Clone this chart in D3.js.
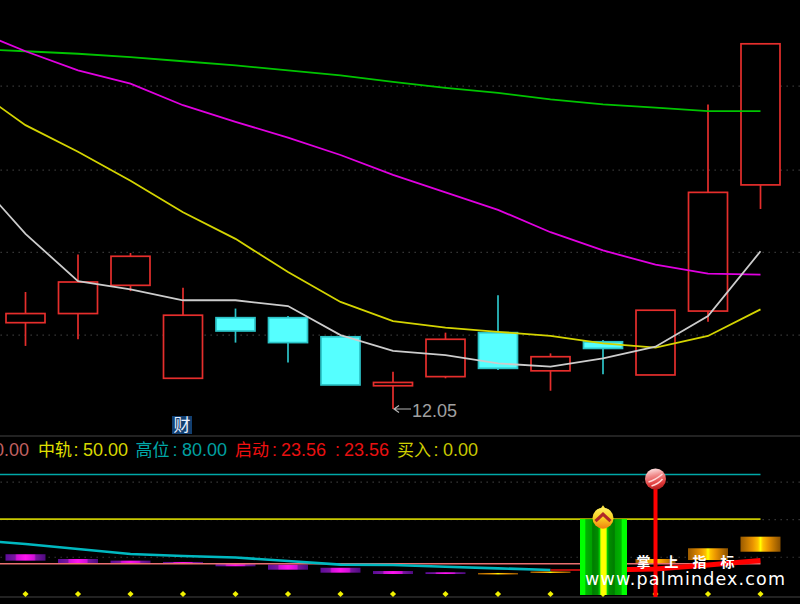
<!DOCTYPE html>
<html><head><meta charset="utf-8">
<script src="https://cdn.jsdelivr.net/npm/d3@7/dist/d3.min.js"></script>
<style>html,body{margin:0;padding:0;background:#000;overflow:hidden}svg{display:block}</style>
</head><body><div id="c"></div>
<script>
const candleIndex=[0,1,2,3,4,5,6,7,8,9,10,11,12,13,14];
const opens =[13.09,13.20,13.54,12.42,13.15,13.15,12.92,12.33,12.44,12.97,12.51,12.86,12.46,13.23,14.75];
const closes=[13.20,13.58,13.89,13.18,12.99,12.85,12.34,12.37,12.89,12.54,12.68,12.78,13.24,14.66,16.45];
const highs =[13.46,13.91,13.93,13.51,13.26,13.17,12.92,12.50,12.97,13.42,12.72,12.88,13.24,15.72,16.45];
const lows  =[12.81,12.89,13.47,12.42,12.85,12.61,12.34,12.05,12.42,12.52,12.27,12.47,12.46,13.10,14.46];
const lineIndex=[-1,0,1,2,3,4,5,6,7,8,9,10,11,12,13,14];
const maWhite  =[14.87,14.16,13.59,13.49,13.36,13.36,13.29,12.94,12.75,12.70,12.60,12.56,12.66,12.80,13.17,13.95];
const maYellow =[15.92,15.47,15.15,14.80,14.42,14.10,13.70,13.34,13.11,13.03,12.98,12.93,12.84,12.79,12.93,13.25];
const maMagenta=[16.62,16.36,16.13,15.97,15.71,15.51,15.32,15.11,14.87,14.66,14.45,14.18,13.96,13.79,13.68,13.67];
const maGreen  =[16.39,16.36,16.33,16.29,16.24,16.19,16.13,16.07,15.99,15.92,15.86,15.78,15.72,15.68,15.64,15.64];
const priceGrid=[15.945,14.933,13.942,12.945];
const lowLabel="12.05";
const lowPrice=12.05;

const indicatorGrid=[75.2,50,24.7];
const levelHigh=80, levelMid=50, levelLow=20;
const trendCyan=[36.0,33.3,29.9,26.6,25.2,24.2,21.8,19.4,19.2,18.0,16.9,15.8];
const trendRedIndex=[10,11,12,13,14];
const trendRed=[15.8,15.8,16.5,19.2,22.2];
const barTop=[26.4,23.2,22.1,21.2,19.8,19.4,17.3,15.1,14.3,13.8,14.8,null,23.2,30.4,38.2];
const barBottom=[22.1,20.0,19.8,19.8,18.3,16.0,14.0,13.1,13.1,12.8,13.8,null,19.8,22.5,28.1];
const barTone=["m","m","m","m","m","m","m","m","m","o","o",null,"o","o","o"];
const signalIndex=11, ballIndex=12;
const ballValue=77;
const headerText=[
 {t:"20.00",x:29,a:"end",c:"#c06060"},
 {t:"中轨",x:38,c:"#e0e000",cjk:1},{t:":",x:73.5,c:"#d8d800"},{t:"50.00",x:83,c:"#d8d800"},
 {t:"高位",x:135.5,c:"#00a8a8",cjk:1},{t:":",x:172.5,c:"#00a0a0"},{t:"80.00",x:182,c:"#00a0a0"},
 {t:"启动",x:235,c:"#f01010",cjk:1},{t:":",x:272,c:"#e81010"},{t:"23.56",x:281,c:"#e81010"},
 {t:":",x:335,c:"#e81010"},{t:"23.56",x:344,c:"#e81010"},
 {t:"买入",x:397,c:"#d0d000",cjk:1},{t:":",x:433.5,c:"#c8c800"},{t:"0.00",x:443,c:"#c8c800"}
];
const watermarkCn=["掌","上","指","标"];
const watermarkEn="www.palmindex.com";

const W=800,H=604;
const svg=d3.select("#c").append("svg").attr("width",W).attr("height",H).attr("viewBox",`0 0 ${W} ${H}`);
svg.append("rect").attr("width",W).attr("height",H).attr("fill","#000");

const x=d3.scaleLinear().domain([0,14]).range([25.5,760.5]);
const y=d3.scaleLinear().domain([12.05,16.45]).range([409,43.8]);
const yi=d3.scaleLinear().domain([0,80]).range([593.5,474.5]);
const bw=39;

const defs=svg.append("defs");
function grad(id,stops,o={}){
  const g=defs.append("linearGradient").attr("id",id);
  Object.entries(o.attrs||{}).forEach(([k,v])=>g.attr(k,v));
  stops.forEach(s=>g.append("stop").attr("offset",s[0]).attr("stop-color",s[1]));
}
grad("gm",[[0,"#5c0c98"],[.24,"#7a169f"],[.28,"#d010d8"],[.5,"#ff14f0"],[.72,"#d010d8"],[.76,"#7a169f"],[1,"#4e0a80"]]);
grad("go",[[0,"#9a5a00"],[.3,"#e89200"],[.44,"#ffc000"],[.5,"#ffff00"],[.56,"#ffc000"],[.7,"#e89200"],[1,"#8a5000"]]);
grad("gg",[[0,"#00ff00"],[.11,"#00ff00"],[.12,"#00b400"],[.25,"#00a000"],[.27,"#007c00"],[.38,"#008c00"],[.42,"#00d000"],[.44,"#c0ff00"],[.46,"#ffff00"],[.54,"#ffff00"],[.56,"#c0ff00"],[.58,"#00d000"],[.62,"#008c00"],[.73,"#007c00"],[.75,"#00a000"],[.88,"#00b400"],[.89,"#00ff00"],[1,"#00ff00"]]);
grad("gf",[[0,"#fff060"],[.5,"#f8d020"],[1,"#f08010"]],{attrs:{x1:0,y1:0,x2:0,y2:1}});
grad("gb",[[0,"#ffe8e8"],[.35,"#f08a8a"],[.75,"#e03a3a"],[1,"#b02020"]],{attrs:{x1:.3,y1:0,x2:.5,y2:1}});

// grids through axes
const gp=svg.append("g").attr("transform",`translate(${W},0)`).call(d3.axisLeft(y).tickValues(priceGrid).tickSize(W).tickFormat(""));
const gi=svg.append("g").attr("transform",`translate(${W},0)`).call(d3.axisLeft(yi).tickValues(indicatorGrid).tickSize(W).tickFormat(""));
[gp,gi].forEach(g=>{g.select(".domain").remove();
  g.selectAll("line").attr("stroke","#343434").attr("stroke-dasharray","1.6 4.4").attr("stroke-width",1.2);});

// separators
[436,597].forEach(v=>svg.append("line").attr("x1",0).attr("x2",W).attr("y1",v).attr("y2",v).attr("stroke","#2e2e2e").attr("stroke-width",1.6));

// candles
const isUp=i=>closes[i]>=opens[i];
const cg=svg.append("g");
cg.selectAll("line.w").data(candleIndex).join("line").attr("class","w")
  .attr("x1",i=>x(i)).attr("x2",i=>x(i)).attr("y1",i=>y(highs[i])).attr("y2",i=>y(lows[i]))
  .attr("stroke",i=>isUp(i)?"#e62e2c":"#2cc4c8").attr("stroke-width",1.7);
cg.selectAll("rect").data(candleIndex).join("rect")
  .attr("x",i=>x(i)-bw/2).attr("width",bw)
  .attr("y",i=>y(Math.max(opens[i],closes[i])))
  .attr("height",i=>Math.abs(y(opens[i])-y(closes[i])))
  .attr("fill",i=>isUp(i)?"#000":"#55ffff")
  .attr("stroke",i=>isUp(i)?"#e62e2c":"#2cc4c8").attr("stroke-width",1.7);

// moving averages
const line=d3.line().x(d=>x(d[0])).y(d=>y(d[1]));
[[maGreen,"#00c400"],[maMagenta,"#e000e0"],[maYellow,"#d4d400"],[maWhite,"#cccccc"]].forEach(([s,c])=>{
  svg.append("path").attr("d",line(lineIndex.map((k,i)=>[k,s[i]]))).attr("fill","none").attr("stroke",c).attr("stroke-width",1.8);
});

// low annotation
const lx=x(7);
svg.append("path").attr("d",`M${lx+18},${y(lowPrice)}H${lx+1}M${lx+6},${y(lowPrice)-3.5}L${lx+1},${y(lowPrice)}L${lx+6},${y(lowPrice)+3.5}`)
  .attr("fill","none").attr("stroke","#b4b4b4").attr("stroke-width",1.2);
svg.append("text").attr("x",lx+19).attr("y",y(lowPrice)+8).attr("fill","#a0a0a0")
  .attr("font-family","Liberation Sans").attr("font-size",18).text(lowLabel);

// 财 badge
svg.append("rect").attr("x",172).attr("y",416).attr("width",20).attr("height",18).attr("fill","#123f70");
svg.append("text").attr("x",182).attr("y",431).attr("text-anchor","middle").attr("fill","#e8f0ff")
  .attr("font-family","Noto Sans CJK SC").attr("font-size",17).text("财");

// header
svg.append("g").selectAll("text").data(headerText).join("text")
  .attr("x",d=>d.x).attr("y",456).attr("text-anchor",d=>d.a||"start").attr("fill",d=>d.c)
  .attr("font-family",d=>d.cjk?"Noto Sans CJK SC":"Liberation Sans").attr("font-size",d=>d.cjk?17:18)
  .text(d=>d.t);

// upper level lines
const xEnd=x(14);
[[levelHigh,"#00a8a8"],[levelMid,"#c8c800"]].forEach(([v,c])=>{
  svg.append("line").attr("x1",0).attr("x2",xEnd).attr("y1",yi(v)).attr("y2",yi(v)).attr("stroke",c).attr("stroke-width",1.6);
});

// indicator bars
svg.append("g").selectAll("rect").data(candleIndex.filter(i=>barTop[i]!=null)).join("rect")
  .attr("x",i=>x(i)-20).attr("width",40).attr("y",i=>yi(barTop[i]))
  .attr("height",i=>yi(barBottom[i])-yi(barTop[i]))
  .attr("fill",i=>barTone[i]==="m"?"url(#gm)":"url(#go)");

// low level line sits on the bars
svg.append("line").attr("x1",0).attr("x2",xEnd).attr("y1",yi(levelLow)).attr("y2",yi(levelLow)).attr("stroke","#ea7070").attr("stroke-width",1.6);

// cyan trend
const li=d3.line().x(d=>x(d[0])).y(d=>yi(d[1]));
svg.append("path").attr("d",li(trendCyan.map((v,i)=>[i-1,v]))).attr("fill","none").attr("stroke","#00b8c0").attr("stroke-width",2.6);

// red trend
const rp=trendRedIndex.map((k,i)=>[k,trendRed[i]]);
svg.append("path").attr("d",li(rp.slice(0,2))).attr("fill","none").attr("stroke","#f01010").attr("stroke-width",1.6);
svg.append("path").attr("d",li(rp.slice(1))).attr("fill","none").attr("stroke","#ff0000").attr("stroke-width",5);

// yellow diamonds
svg.append("g").selectAll("path").data(candleIndex).join("path")
  .attr("d",d3.symbol(d3.symbolDiamond2,24))
  .attr("transform",i=>`translate(${x(i)},${yi(0)+0.5})`).attr("fill","#f0f000");

// green signal bar
const sx=x(signalIndex);
svg.append("rect").attr("x",sx-23).attr("width",47).attr("y",yi(levelMid)).attr("height",595-yi(levelMid)).attr("fill","url(#gg)");

// flame icon
const fy=yi(levelMid)-1;
svg.append("path").attr("d",`M${sx},${fy-13}L${sx+3.5},${fy-8}L${sx-3.5},${fy-8}Z`).attr("fill","#f8e040");
svg.append("circle").attr("cx",sx).attr("cy",fy).attr("r",10.5).attr("fill","url(#gf)");
svg.append("path").attr("d",`M${sx-7.5},${fy+3}L${sx},${fy-4}L${sx+7.5},${fy+3}`).attr("fill","none").attr("stroke","#b02828").attr("stroke-width",3.2);

// red spike with ball
const bx=x(ballIndex);
svg.append("line").attr("x1",bx).attr("x2",bx).attr("y1",yi(ballValue)).attr("y2",597).attr("stroke","#ff0000").attr("stroke-width",4);
svg.append("circle").attr("cx",bx).attr("cy",yi(ballValue)).attr("r",10.5).attr("fill","url(#gb)");
svg.append("path").attr("d",`M${bx-7},${yi(ballValue)+3}Q${bx},${yi(ballValue)+1} ${bx+7},${yi(ballValue)-5}M${bx-4},${yi(ballValue)+7}Q${bx+3},${yi(ballValue)+5} ${bx+7},${yi(ballValue)}`)
  .attr("fill","none").attr("stroke","#ffd8d8").attr("stroke-width",1.5);

// watermark
svg.append("g").selectAll("text").data(watermarkCn).join("text")
  .attr("x",(d,i)=>643.5+i*28).attr("y",567).attr("text-anchor","middle").attr("fill","#fff")
  .attr("font-family","Noto Sans CJK SC").attr("font-weight",700).attr("font-size",14).text(d=>d);
svg.append("text").attr("x",585).attr("y",585).attr("fill","#fff")
  .attr("font-family","DejaVu Sans").attr("font-size",17.5).attr("textLength",200).text(watermarkEn);
</script></body></html>
